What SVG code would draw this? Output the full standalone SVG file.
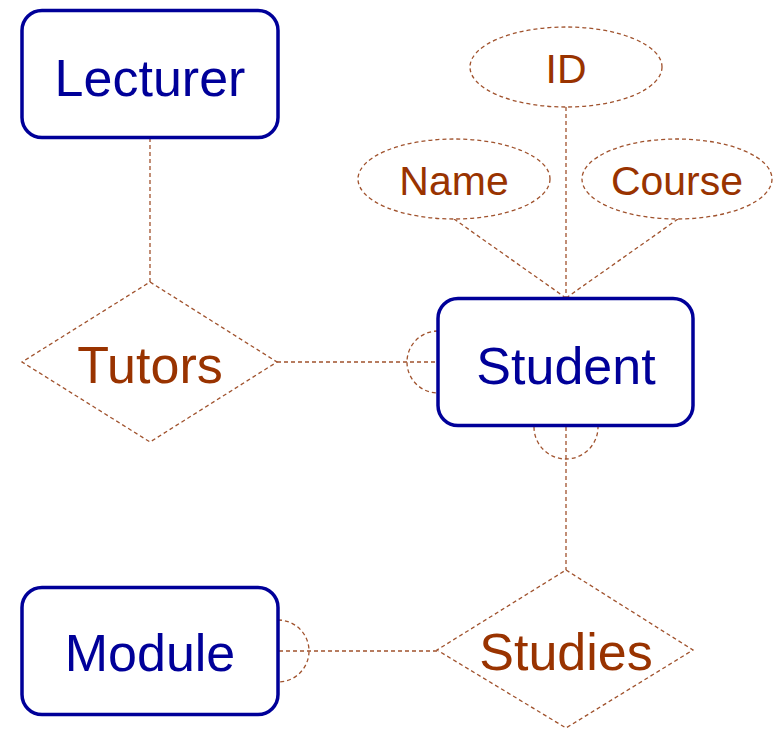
<svg xmlns="http://www.w3.org/2000/svg" width="773" height="729" viewBox="0 0 773 729">
<style>
.ent{fill:#fff;stroke:#000099;stroke-width:3.5}
.entt{fill:#000099;font-family:"Liberation Sans",Arial,sans-serif;font-size:52px;text-anchor:middle}
.rel{fill:#fff;stroke:#A0522D;stroke-width:1.3;stroke-dasharray:4 3}
.relt{fill:#993300;font-family:"Liberation Sans",Arial,sans-serif;font-size:52px;text-anchor:middle}
.att{fill:#fff;stroke:#A0522D;stroke-width:1.3;stroke-dasharray:4 3}
.attt{fill:#993300;font-family:"Liberation Sans",Arial,sans-serif;font-size:41px;text-anchor:middle}
.con{fill:none;stroke:#A0522D;stroke-width:1.3;stroke-dasharray:4 3}
</style>
<g id="connectors">
<line class="con" x1="150" y1="138" x2="150" y2="282"/>
<line class="con" x1="277" y1="362" x2="437" y2="362"/>
<line class="con" x1="566" y1="427" x2="566" y2="570"/>
<line class="con" x1="437" y1="651" x2="279" y2="651"/>
<line class="con" x1="566" y1="107" x2="566" y2="298"/>
<line class="con" x1="454" y1="219" x2="566" y2="298"/>
<line class="con" x1="678" y1="219" x2="566" y2="298"/>
<path class="con" d="M438 331 A31 31 0 0 0 438 393"/>
<path class="con" d="M534 427 A32 32 0 0 0 598 427"/>
<path class="con" d="M278 620 A31 31 0 0 1 278 682"/>
</g>
<g id="lecturer">
<rect class="ent" x="22" y="10.5" width="256" height="127" rx="20"/>
<text class="entt" x="150" y="96">Lecturer</text>
</g>
<g id="student">
<rect class="ent" x="438" y="298.5" width="255" height="127" rx="20"/>
<text class="entt" x="566" y="384">Student</text>
</g>
<g id="module">
<rect class="ent" x="22" y="587.5" width="256" height="127" rx="20"/>
<text class="entt" x="150" y="671">Module</text>
</g>
<g id="tutors">
<polygon class="rel" points="150,282 277,362 150,442 22,362"/>
<text class="relt" x="150" y="383">Tutors</text>
</g>
<g id="studies">
<polygon class="rel" points="566,570 693,650 566,728 437,650"/>
<text class="relt" x="566" y="670">Studies</text>
</g>
<g id="id">
<ellipse class="att" cx="566" cy="67" rx="96" ry="40"/>
<text class="attt" x="566" y="83">ID</text>
</g>
<g id="name">
<ellipse class="att" cx="454" cy="179" rx="96" ry="40"/>
<text class="attt" x="454" y="195">Name</text>
</g>
<g id="course">
<ellipse class="att" cx="677" cy="179" rx="95" ry="40"/>
<text class="attt" x="677" y="195">Course</text>
</g>
</svg>
